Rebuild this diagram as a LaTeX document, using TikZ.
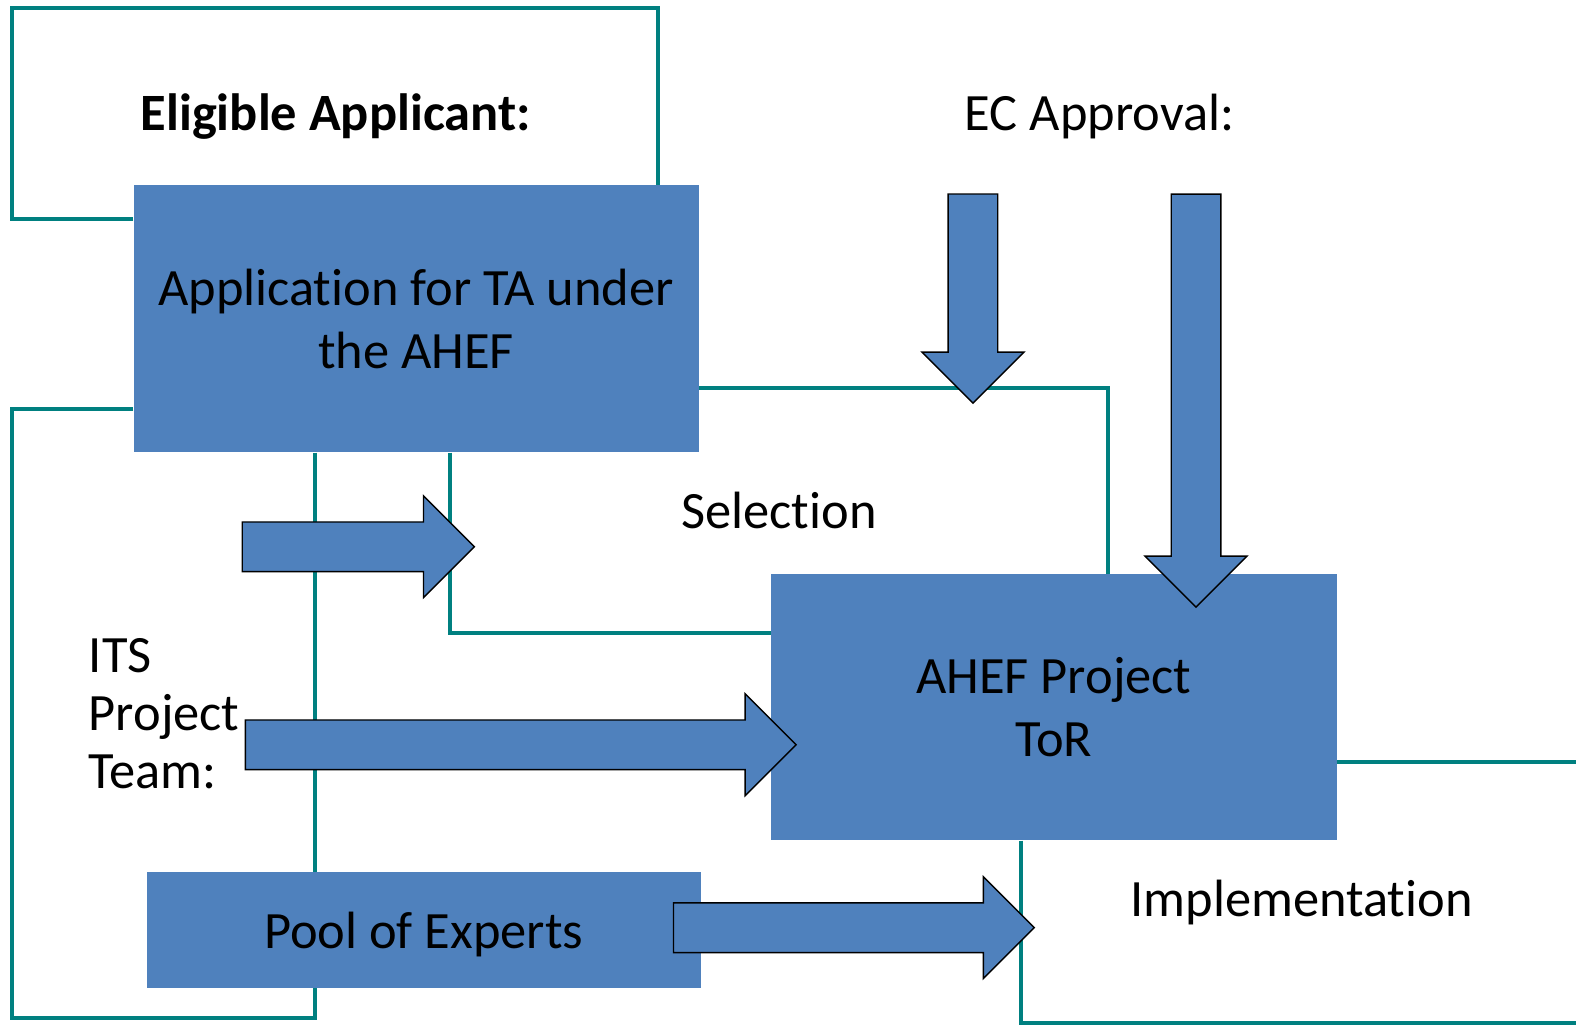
\documentclass[tikz,border=0pt]{standalone}
\usepackage{fontspec}
\setmainfont{Carlito}[Ligatures=NoCommon]
\usetikzlibrary{positioning,shapes.arrows,backgrounds}
\definecolor{frameteal}{RGB}{0,128,128}
\definecolor{boxblue}{RGB}{79,129,189}

\begin{document}
\begin{tikzpicture}[x=0.02cm,y=-0.02cm,
        txt/.style={font=\fontsize{29.7}{35.8}\selectfont,align=center,inner sep=0pt},
        box/.style={txt,fill=boxblue},
        blk/.style={single arrow,fill=boxblue,draw=black,line width=0.8pt,
            inner xsep=0pt,inner ysep=0.48cm,single arrow head extend=0.52cm,
            single arrow tip angle=90},
        frame/.style={draw=frameteal,line width=2.3pt}]
            \useasboundingbox (0,0) rectangle (1568,1021);

            \node[box,minimum width=11.24cm,minimum height=5.32cm] (app)  at (414,317)    {Application for TA under\\the AHEF};
            \node[box,minimum width=11.26cm,minimum height=5.30cm] (tor)  at (1048.5,703.5) {AHEF Project\\ToR};
            \node[box,minimum width=11.02cm,minimum height=2.30cm,text depth=0pt] (pool) at (421.5,925.5) {Pool of Experts};

            \node[txt,font=\fontsize{29.7}{35.8}\selectfont\bfseries] (elig) at (334,116) {Eligible Applicant:};
            \node[txt] (ec)   at (1094,116) {EC Approval:};
            \node[txt] (sel)  at (775,508)  {Selection};
            \node[txt] (impl) at (1295,898) {Implementation};
            \node[txt,anchor=west,align=left,font=\fontsize{29.7}{32.8}\selectfont] (its) at (88,710) {ITS\\Project\\Team:};

            \node[blk,minimum height=4.62cm,anchor=tip]  (arrsel)  at (473,544) {};
            \node[blk,minimum height=10.96cm,anchor=tip] (arrteam) at (793,741) {};
            \node[blk,minimum height=7.18cm,anchor=tip]  (arrpool) at (1030,923) {};
            \node[blk,minimum height=4.16cm,anchor=tip,rotate=-90] (arrecsel) at (968,402) {};
            \node[blk,minimum height=8.22cm,anchor=tip,rotate=-90] (arrector) at (1190,605) {};

            \coordinate (rimtop) at (1568,758);
            \coordinate (rimbot) at (1568,1018);

            \begin{scope}[on background layer]
                \draw[frame] (app.west |- 0,218) -| (12,8) -| (app.north -| 655,0);
                \draw[frame] (app.west |- 0,407) -| (12,1013) -| (pool.south -| 313,0);
                \draw[frame] (app.south -| 313,0) -- (pool.north -| 313,0);
                \draw[frame] (app.south -| 448,0) |- (tor.west |- 0,630);
                \draw[frame] (app.east |- 0,386) -| (tor.north -| 1102,0);
                \draw[frame] (tor.east |- rimtop) -- (rimtop);
                \draw[frame] (tor.south -| 1016,0) |- (rimbot);
            \end{scope}
        \end{tikzpicture}
\end{document}
